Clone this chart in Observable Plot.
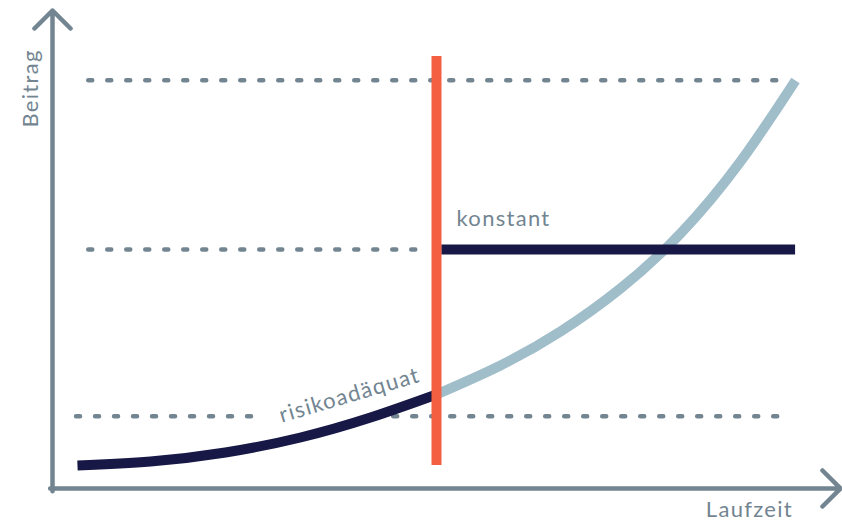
<!DOCTYPE html>
<html>
<head>
<meta charset="utf-8">
<script src="https://cdn.jsdelivr.net/npm/d3@7"></script>
<script src="https://cdn.jsdelivr.net/npm/@observablehq/plot@0.6"></script>
<style>
  html, body { margin: 0; padding: 0; background: #ffffff; }
  #chart svg { display: block; }
  #chart svg text { letter-spacing: 1.3px; }
</style>
</head>
<body>
<div id="chart"></div>
<script>
// Laufzeit (x) and Beitrag (y), abstract units 0..100
const riskLaufzeit = [3.17, 12.44, 21.95, 31.47, 40.36, 48.73];
const riskBeitrag  = [4.81, 5.65, 7.53, 10.67, 14.85, 19.67];
const futureLaufzeit = [48.73, 56.85, 64.47, 72.08, 79.70, 87.31, 94.29];
const futureBeitrag  = [19.67, 25.73, 32.85, 41.84, 53.35, 68.41, 85.36];

const switchLaufzeit = 48.73;
const switchBeitragRange = [4.8, 90.4];

const konstantLaufzeit = [49.4, 94.3];
const konstantBeitrag = 50.0;

// dotted guide levels: level, from, to
const guideLevels = [85.4, 50.0, 15.1, 15.1];
const guideFrom   = [4.6, 4.6, 3.05, 43.3];
const guideTo     = [93.3, 47.3, 26.6, 93.0];

const labels = ["konstant", "risikoadäquat", "Beitrag", "Laufzeit"];
const labelX = [51.27, 37.7, -2.79, 93.97];
const labelY = [56.3, 19.5, 83.7, -4.5];

const gray = "#728591";
const navy = "#181846";
const light = "#a0bdca";
const orange = "#f45f41";

const risk = riskLaufzeit.map((x, i) => ({x, y: riskBeitrag[i]}));
const future = futureLaufzeit.map((x, i) => ({x, y: futureBeitrag[i]}));
const guides = guideLevels.map((y, i) => ({y, x1: guideFrom[i], x2: guideTo[i]}));
const konstant = [{y: konstantBeitrag, x1: konstantLaufzeit[0], x2: konstantLaufzeit[1]}];
const sw = [{x: switchLaufzeit, y1: switchBeitragRange[0], y2: switchBeitragRange[1]}];
const axes = [
  {x1: 0, y1: -0.6, x2: 0, y2: 100},
  {x1: -0.3, y1: 0, x2: 100, y2: 0}
];

const font = "Lato, 'Open Sans', sans-serif";

const chart = Plot.plot({
  width: 842,
  height: 522,
  margin: 0,
  x: {domain: [0, 100], range: [52, 840], axis: null},
  y: {domain: [0, 100], range: [488, 10], axis: null},
  style: {background: "#ffffff", fontFamily: font},
  marks: [
    Plot.ruleY(guides, {y: "y", x1: "x1", x2: "x2", stroke: gray, strokeWidth: 4.5,
      strokeDasharray: "4,15", strokeLinecap: "round"}),
    Plot.arrow(axes, {x1: "x1", y1: "y1", x2: "x2", y2: "y2", stroke: gray, strokeWidth: 4.5,
      headAngle: 90, headLength: 8.5, bend: 0}),
    Plot.line(future, {x: "x", y: "y", stroke: light, strokeWidth: 10, curve: "natural", strokeLinecap: "butt"}),
    Plot.line(risk, {x: "x", y: "y", stroke: navy, strokeWidth: 10, curve: "natural", strokeLinecap: "butt"}),
    Plot.ruleY(konstant, {y: "y", x1: "x1", x2: "x2", stroke: navy, strokeWidth: 10}),
    Plot.ruleX(sw, {x: "x", y1: "y1", y2: "y2", stroke: orange, strokeWidth: 10}),
    Plot.text([labels[0]], {x: () => labelX[0], y: () => labelY[0], text: d => d, textAnchor: "start",
      fill: gray, fontSize: 22, fontFamily: font}),
    Plot.text([labels[1]], {x: () => labelX[1], y: () => labelY[1], text: d => d, textAnchor: "middle",
      rotate: -16.5, fill: gray, fontSize: 22, fontFamily: font}),
    Plot.text([labels[2]], {x: () => labelX[2], y: () => labelY[2], text: d => d, textAnchor: "middle",
      rotate: -90, fill: gray, fontSize: 22, fontFamily: font}),
    Plot.text([labels[3]], {x: () => labelX[3], y: () => labelY[3], text: d => d, textAnchor: "end",
      fill: gray, fontSize: 22, fontFamily: font})
  ]
});
document.getElementById("chart").appendChild(chart);
</script>
</body>
</html>
